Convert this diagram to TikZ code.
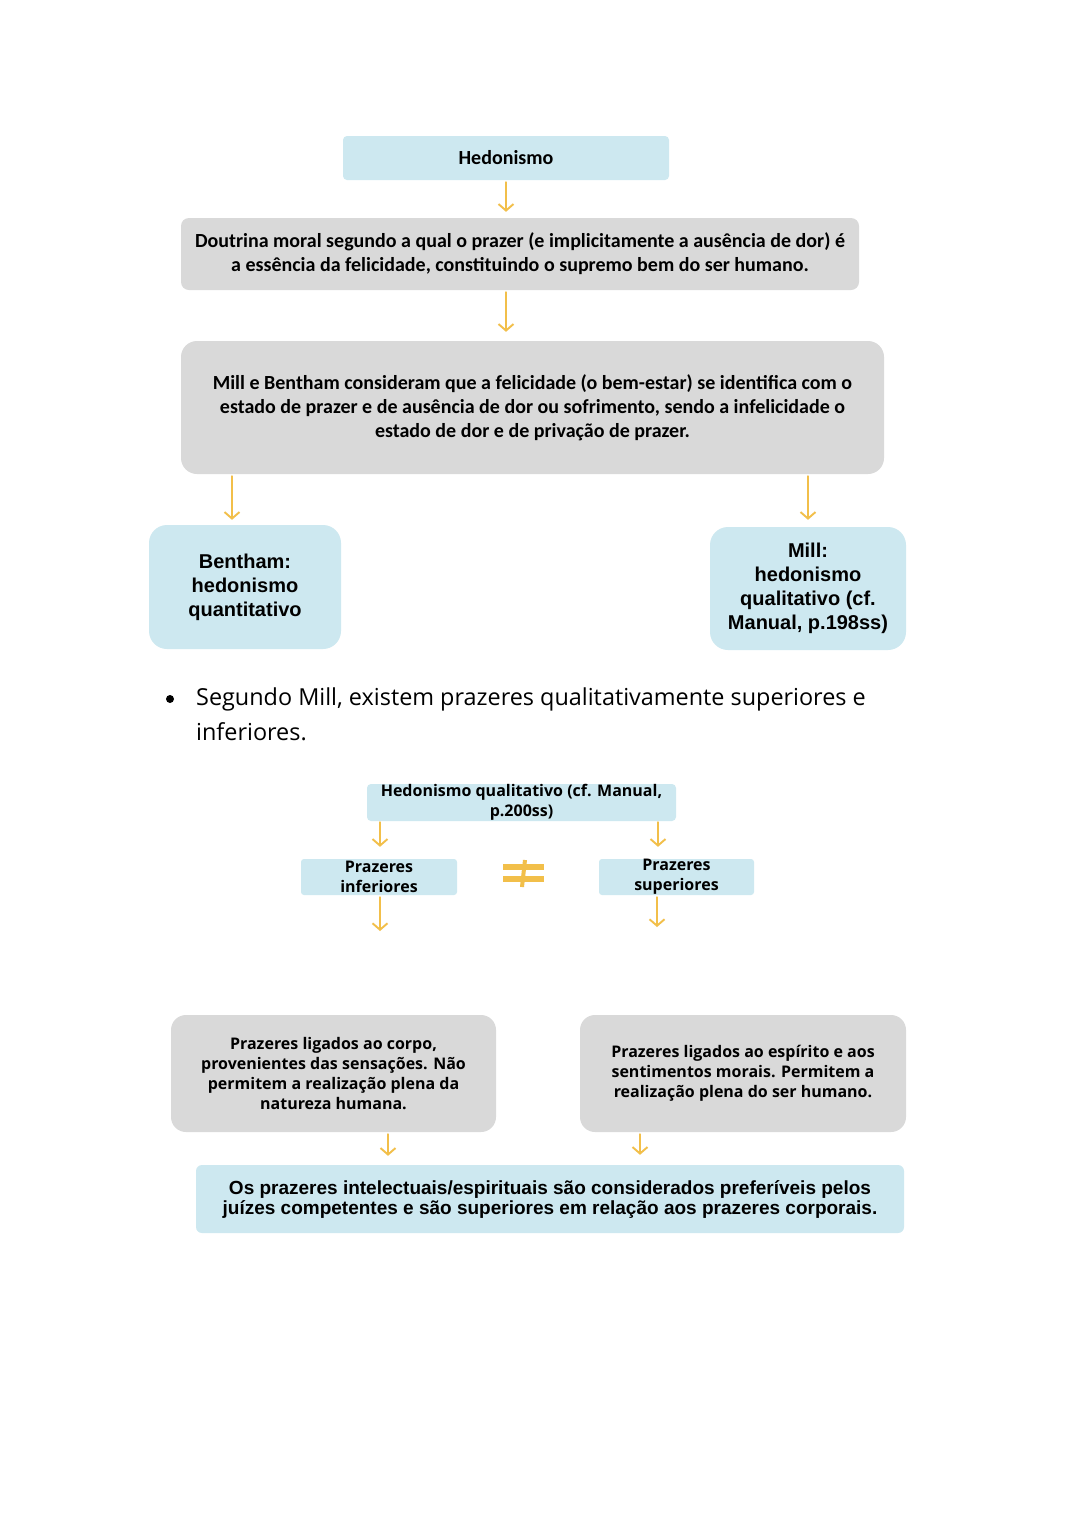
\documentclass[tikz,border=0pt]{standalone}
\usepackage{fontspec}
\setmainfont{Carlito}
\newfontfamily\arialf{Liberation Sans}
\newfontfamily\opensf{Open Sans}
\usetikzlibrary{arrows.meta}
\definecolor{boxblue}{HTML}{CDE8F0}
\definecolor{boxgray}{HTML}{D9D9D9}
\definecolor{arrowyellow}{HTML}{F2BF4A}
\begin{document}
\begin{tikzpicture}[x=1pt,y=-1pt,
  bluebox/.style={fill=boxblue, draw=none, align=center, inner sep=0pt},
  graybox/.style={fill=boxgray, draw=none, align=center, inner sep=0pt},
  calfont/.style={font=\bfseries\fontsize{20}{24}\selectfont},
  arialfont/.style={font=\arialf\bfseries\fontsize{20}{24}\selectfont},
  arialsmall/.style={font=\arialf\bfseries\fontsize{19}{20}\selectfont},
  osfont/.style={font=\opensf\bfseries\fontsize{16}{20}\selectfont},
  arr/.style={draw=arrowyellow, line width=1.9pt, line cap=round,
    -{Straight Barb[length=6.5pt,width=15pt]}},
  neq/.style={draw=arrowyellow, line width=5.5pt}
]
\useasboundingbox (0,0) rectangle (1080,1527);
\fill[white] (0,0) rectangle (1080,1527);

% top diagram
\node[bluebox, calfont, rounded corners=4pt, minimum width=326pt, minimum height=44pt] (hed) at (506,158) {Hedonismo};
\node[graybox, calfont, rounded corners=8pt, minimum width=678pt, minimum height=72pt] (dou) at (520,254)
  {Doutrina moral segundo a qual o prazer (e implicitamente a ausência de dor) é\\a essência da felicidade, constituindo o supremo bem do ser humano.};
\node[graybox, calfont, rounded corners=16pt, minimum width=703pt, minimum height=133pt] (mb) at (532.5,407.5)
  {Mill e Bentham consideram que a felicidade (o bem-estar) se identifica com o\\estado de prazer e de ausência de dor ou sofrimento, sendo a infelicidade o\\estado de dor e de privação de prazer.};
\node[bluebox, arialfont, rounded corners=18pt, minimum width=192pt, minimum height=124pt] (ben) at (245,587)
  {Bentham:\\hedonismo\\quantitativo};
\node[bluebox, arialfont, rounded corners=18pt, minimum width=196pt, minimum height=123pt] (mil) at (808,588.5)
  {Mill:\\hedonismo\\qualitativo (cf.\\Manual, p.198ss)};

\draw[arr, shorten <=2pt, shorten >=6pt] (hed.south) -- (hed.south |- dou.north);
\draw[arr, shorten <=2pt, shorten >=9pt] (hed.south |- dou.south) -- (hed.south |- mb.north);
\draw[arr, shorten <=2pt, shorten >=5pt] ([xshift=-13pt]ben.north |- mb.south) -- ([xshift=-13pt]ben.north);
\draw[arr, shorten <=2pt, shorten >=7pt] (mil.north |- mb.south) -- (mil.north);

% bullet
\fill (170,699) circle (4pt);
\node[anchor=base west, inner sep=0pt, font=\opensf\fontsize{23.4}{35}\selectfont] (b1) at (196,705)
  {Segundo Mill, existem prazeres qualitativamente superiores e};
\node[anchor=base west, inner sep=0pt, font=\opensf\fontsize{23.4}{35}\selectfont] (b2) at (196,740)
  {inferiores.};

% lower diagram
\node[bluebox, osfont, rounded corners=4pt, minimum width=309pt, minimum height=37pt] (hq) at (521.5,802.5)
  {Hedonismo qualitativo (cf. Manual,\\p.200ss)};
\node[bluebox, osfont, rounded corners=3pt, minimum width=156pt, minimum height=36pt] (pin) at (379,877)
  {Prazeres\\inferiores};
\node[bluebox, osfont, rounded corners=3pt, minimum width=155pt, minimum height=36pt] (psu) at (676.5,877)
  {Prazeres\\superiores};

\draw[neq] (503,867) -- (544,867);
\draw[neq] (503,879) -- (544,879);
\draw[draw=arrowyellow, line width=4pt] (525,860) -- (522,887);

\coordinate (pie) at (380,931);
\coordinate (pse) at (657,927);
\draw[arr, shorten <=1pt, shorten >=12pt] ([xshift=1pt]pin.north |- hq.south) -- ([xshift=1pt]pin.north);
\draw[arr, shorten <=1pt, shorten >=12pt] ([xshift=-18.5pt]psu.north |- hq.south) -- ([xshift=-18.5pt]psu.north);
\draw[arr, shorten <=2pt] (pie |- pin.south) -- (pie);
\draw[arr, shorten <=2pt] (pse |- psu.south) -- (pse);

\node[graybox, osfont, rounded corners=15pt, minimum width=325pt, minimum height=117pt] (gl) at (333.5,1073.5)
  {Prazeres ligados ao corpo,\\provenientes das sensações. Não\\permitem a realização plena da\\natureza humana.};
\node[graybox, osfont, rounded corners=15pt, minimum width=326pt, minimum height=117pt] (gr) at (743,1073.5)
  {Prazeres ligados ao espírito e aos\\sentimentos morais. Permitem a\\realização plena do ser humano.};
\node[bluebox, arialsmall, rounded corners=6pt, minimum width=708pt, minimum height=68pt] (bb) at (550,1199)
  {Os prazeres intelectuais/espirituais são considerados preferíveis pelos\\juízes competentes e são superiores em relação aos prazeres corporais.};

\draw[arr, shorten <=2pt, shorten >=9pt] ([xshift=54.5pt]gl.south) -- ([xshift=54.5pt]gl.south |- bb.north);
\draw[arr, shorten <=2pt, shorten >=10pt] ([xshift=-103pt]gr.south) -- ([xshift=-103pt]gr.south |- bb.north);
\end{tikzpicture}
\end{document}
